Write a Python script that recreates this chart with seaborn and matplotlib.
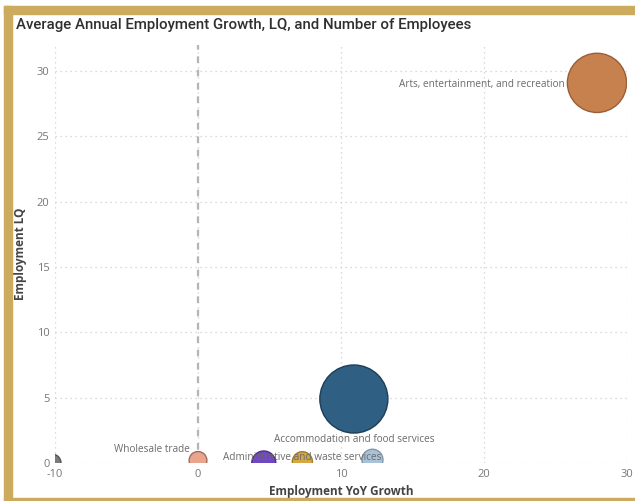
import matplotlib
matplotlib.use("Agg")
import matplotlib.pyplot as plt
from matplotlib.patches import Rectangle
import seaborn as sns
import pandas as pd

# Industry bubbles: growth (x), location quotient (y), employees (bubble area)
sectors = [
    "Retail trade",
    "Wholesale trade",
    "Management of companies",
    "Administrative and waste services",
    "Accommodation and food services",
    "Health care and social assistance",
    "Arts, entertainment, and recreation",
]
labels = [
    "",
    "Wholesale trade",
    "",
    "Administrative and waste services",
    "Accommodation and food services",
    "",
    "Arts, entertainment, and recreation",
]
yoy_growth = [-10.2, 0.0, 4.6, 7.3, 10.9, 12.2, 27.9]
employment_lq = [0.0, 0.2, 0.0, 0.1, 4.9, 0.25, 29.1]
employees = [900, 900, 1650, 1150, 13200, 1260, 10000]
colors = ["#7b7b7b", "#eba48d", "#7046c2", "#d6a843", "#2f5f82", "#a9c2d8", "#c6814f"]
edges = ["#555555", "#a06d5c", "#4e2f8c", "#a07c2c", "#1d3d58", "#7f97ad", "#9a5e36"]

df = pd.DataFrame({
    "sector": sectors,
    "label": labels,
    "growth": yoy_growth,
    "lq": employment_lq,
    "employees": employees,
})

sns.set_theme(style="white")
plt.rcParams["font.family"] = ["Open Sans", "DejaVu Sans"]
plt.rcParams["axes.unicode_minus"] = False

fig = plt.figure(figsize=(6.35, 5.01), dpi=100)
fig.patch.set_facecolor("white")
ax = fig.add_axes([0.0866, 0.0758, 0.9008, 0.8344])

# Gold card frame (thick top/left, thin bottom)
gold = "#ccab5f"
W, H = 635.0, 501.0
fig.patches.append(Rectangle((4 / W, 1 - 14 / H), 1 - 4 / W, 8 / H,
                             transform=fig.transFigure, color=gold, zorder=0))
fig.patches.append(Rectangle((4 / W, 1 / H), 8 / W, 1 - 7 / H,
                             transform=fig.transFigure, color=gold, zorder=0))
fig.patches.append(Rectangle((4 / W, 0), 1 - 4 / W, 3 / H,
                             transform=fig.transFigure, color=gold, zorder=0))

ax.set_xlim(-10, 30)
ax.set_ylim(0, 32)
ax.set_xticks([-10, 0, 10, 20, 30])
ax.set_yticks([0, 5, 10, 15, 20, 25, 30])
ax.grid(True, color="#cfcfcf", linestyle=(0, (1, 3)), linewidth=0.9)
ax.set_axisbelow(True)
for s in ax.spines.values():
    s.set_visible(False)
ax.tick_params(length=0, labelsize=8, labelcolor="#777777", pad=4)

ax.axvline(0, color="#b5b5b5", linestyle=(0, (3, 3)), linewidth=1.6, zorder=1)

sns.scatterplot(
    data=df, x="growth", y="lq", hue="sector", palette=colors,
    size="employees", sizes=(0, 2400), size_norm=(0, 13200),
    edgecolor=edges, linewidth=1.0, alpha=1.0, legend=False, ax=ax, zorder=3,
)

# Data labels
label_offsets = {
    "Wholesale trade": ((-6, 8), "right"),
    "Administrative and waste services": ((0, 3), "center"),
    "Accommodation and food services": ((0, -29.5), "center"),
    "Arts, entertainment, and recreation": ((-23, -1.5), "right"),
}
for _, row in df.iterrows():
    if not row["label"]:
        continue
    (dx, dy), ha = label_offsets[row["label"]]
    ax.annotate(row["label"], (row["growth"], row["lq"]), xytext=(dx, dy),
                textcoords="offset points", ha=ha, va="center",
                fontsize=7.2, color="#6b6b6b", zorder=4, annotation_clip=False)

ax.set_xlabel("Employment YoY Growth", fontsize=8.5, fontweight="bold",
              color="#444444", labelpad=4)
ax.set_ylabel("Employment LQ", fontsize=8.5, fontweight="bold",
              color="#444444", labelpad=7)

fig.text(16 / W, 1 - 25 / H, "Average Annual Employment Growth, LQ, and Number of Employees",
         fontsize=10.8, color="#2f2f2f", va="center", ha="left", fontweight="medium",
         family=["Roboto", "DejaVu Sans"])

fig.savefig("out.png", dpi=100, facecolor="white")
